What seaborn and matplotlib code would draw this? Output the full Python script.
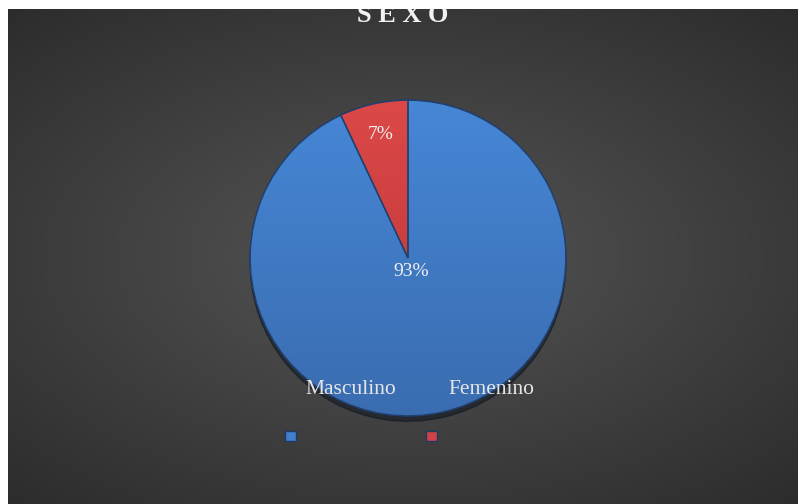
import numpy as np
import matplotlib
matplotlib.use('Agg')
import matplotlib.pyplot as plt
import seaborn as sns
from matplotlib.patches import Patch, Wedge
from matplotlib.colors import LinearSegmentedColormap

categories = ['Masculino', 'Femenino']
values = [93, 7]
title = 'SEXO'

sns.set_theme(style='dark')
plt.rcParams['font.family'] = ['Liberation Serif', 'DejaVu Serif']

W, H = 798, 504
fig = plt.figure(figsize=(W / 100, H / 100), dpi=100, facecolor='white')

# dark background with a soft radial glow
bg = fig.add_axes([8 / W, 0, (W - 8) / W, (H - 9) / H])
bg.set_axis_off()
yy, xx = np.mgrid[-1:1:300j, -1:1:400j]
r = np.sqrt((xx * 1.0) ** 2 + (yy * 1.1) ** 2)
glow = np.clip(1 - r / 1.5, 0, 1)
bg_cmap = LinearSegmentedColormap.from_list('bg', ['#2c2c2c', '#4f4f4f'])
bg.imshow(glow, cmap=bg_cmap, aspect='auto', extent=[0, 1, 0, 1], vmin=0, vmax=0.85)
bg.set_xlim(0, 1)
bg.set_ylim(0, 1)
bg.text(0.5, 1 - 13 / (H - 9), ' '.join(title), ha='center', va='baseline', fontsize=19,
        fontweight='bold', color='#f2f2f2', clip_on=True)

# pie
cx, cy, rad = 408, 258, 161
ax = fig.add_axes([(cx - rad) / W, (H - cy - rad) / H, 2 * rad / W, 2 * rad / H])
ax.set_facecolor('none')
colors = ['#4080cc', '#d04242']
wedges, texts, autotexts = ax.pie(
    values, colors=colors, startangle=90, counterclock=False,
    autopct='%1.0f%%', pctdistance=0.8,
    wedgeprops=dict(edgecolor='#1e3a66', linewidth=1.0),
    textprops=dict(color='#f0f0f0', fontsize=14),
    shadow=dict(ox=0.0, oy=-0.025, shade=0.85),
)
ax.set_xlim(-1.02, 1.02)
ax.set_ylim(-1.02, 1.02)

# vertical shading on each slice
grads = [['#4687d6', '#3a6cb0'], ['#dc4848', '#b83434']]
for w, g in zip(wedges, grads):
    cm = LinearSegmentedColormap.from_list('g', [g[1], g[0]])
    im = ax.imshow(np.linspace(0, 1, 256).reshape(-1, 1), cmap=cm, origin='lower',
                   extent=[-1, 1, -1, 1], aspect='auto', zorder=w.get_zorder() + 0.1)
    im.set_clip_path(w)
    edge = Wedge(w.center, w.r, w.theta1, w.theta2, facecolor='none',
                 edgecolor='#22406e', linewidth=1.0, zorder=w.get_zorder() + 0.2)
    ax.add_patch(edge)
for t in autotexts:
    t.set_zorder(5)

# the big share label sits near the centre
w0 = wedges[0]
mid = np.deg2rad((w0.theta1 + w0.theta2) / 2)
autotexts[0].set_position((0.09 * np.cos(mid), 0.09 * np.sin(mid)))

# legend markers
handles = [Patch(facecolor=c, edgecolor='#1e3a66') for c in colors]
fig.legend(handles, ['', ''], loc='center', ncol=2, frameon=False,
           bbox_to_anchor=(361 / W, 1 - 437 / H), fontsize=10,
           handlelength=0.75, handletextpad=0, columnspacing=9.4)

for name, x in zip(categories, [351, 491]):
    fig.text(x / W, 1 - 390 / H, name, ha='center', va='center',
             fontsize=15.5, color='#e6e6e6')

fig.savefig('out.png', dpi=100, facecolor='white')
